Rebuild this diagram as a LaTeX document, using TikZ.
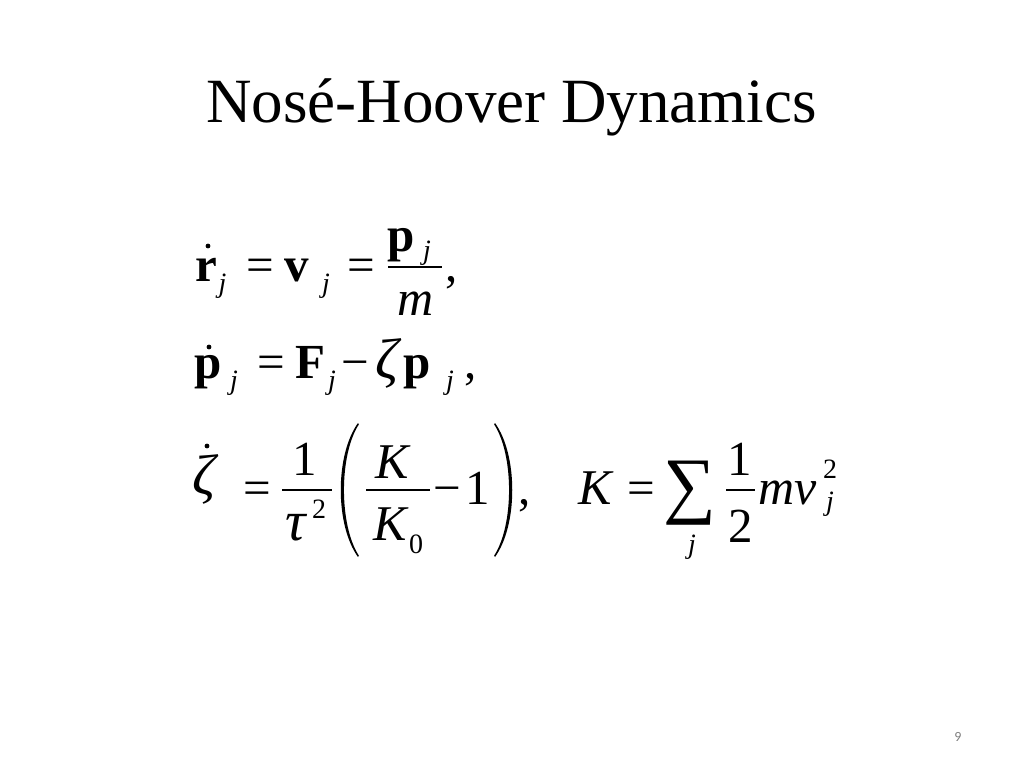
\documentclass[tikz,border=0pt]{standalone}
\usepackage{fontspec}
\setmainfont{Liberation Serif}
\newfontfamily\pagefont{Carlito}
\begin{document}
\begin{tikzpicture}[x=1bp,y=-1bp,
  every node/.style={inner sep=0pt,outer sep=0pt,anchor=base},
  mr/.style={font=\fontsize{49bp}{58bp}\selectfont},
  mb/.style={font=\fontsize{49bp}{58bp}\selectfont\bfseries},
  mi/.style={font=\fontsize{50bp}{58bp}\selectfont\itshape},
  gk/.style={font=\fontsize{57bp}{66bp}\selectfont\itshape},
  sub/.style={font=\fontsize{28bp}{34bp}\selectfont\itshape},
  sup/.style={font=\fontsize{28bp}{34bp}\selectfont},
  bar/.style={line width=2bp},
  dotmark/.style={fill=black},
  paren/.style={fill=black}]
\useasboundingbox[fill=white] (0,0) rectangle (1024,768);
% title
\node[font=\fontsize{63bp}{76bp}\selectfont] (title) at (511.5,122) {Nosé-Hoover Dynamics};
% row 1
\node[mb] (r1r) at (206.5,281) {r};
\fill[dotmark] (208,246) circle (2.4);
\node[sub] (r1j1) at (222.5,292) {j};
\node[mr] (r1e1) at (260.5,281) {=};
\node[mb] (r1v) at (297,281) {v};
\node[sub] (r1j2) at (326,292) {j};
\node[mr] (r1e2) at (361,281) {=};
\coordinate (r1bl) at (388,267);
\coordinate (r1br) at (442,267);
\draw[bar] (r1bl) -- (r1br);
\node[mb] (r1p) at (401.5,251) {p};
\node[sub] (r1j3) at (427,259) {j};
\node[mi] (r1m) at (415.5,315) {m};
\node[mr] (r1c) at (452,281) {,};
% row 2
\node[mb] (r2p) at (208,378) {p};
\fill[dotmark] (209,347) circle (2.4);
\node[sub] (r2j1) at (234,389) {j};
\node[mr] (r2e) at (271.5,378) {=};
\node[mb] (r2F) at (310,378) {F};
\node[sub] (r2j2) at (332,389) {j};
\node[mr] (r2m) at (355,378) {−};
\node[gk] (r2z) at (387,378) {ζ};
\node[mb] (r2p2) at (417,378) {p};
\node[sub] (r2j3) at (450,389) {j};
\node[mr] (r2c) at (471,378) {,};
% row 3 left
\node[gk] (r3z) at (204,494) {ζ};
\fill[dotmark] (207,446) circle (2.4);
\node[mr] (r3e) at (257,504) {=};
\coordinate (f1l) at (282,490);
\coordinate (f1r) at (332,490);
\draw[bar] (f1l) -- (f1r);
\node[mr] (f1n) at (305,475) {1};
\node[gk] (f1t) at (296,540) {τ};
\node[sup] (f1s) at (319,518) {2};
\fill[paren] (358,423) .. controls (335,455) and (335,525) .. (358,557)
  -- (358.8,555.5) .. controls (339,525) and (339,455) .. (358.8,424.5) -- cycle;
\coordinate (f2l) at (366,490);
\coordinate (f2r) at (430,490);
\draw[bar] (f2l) -- (f2r);
\node[mi] (f2n) at (392,478) {K};
\node[mi] (f2d) at (390,540) {K};
\node[sup] (f2s) at (416,553) {0};
\node[mr] (r3m) at (447,504) {−};
\node[mr] (r3one) at (478,504) {1};
\fill[paren] (495,423) .. controls (518,455) and (518,525) .. (495,557)
  -- (494.2,555.5) .. controls (514,525) and (514,455) .. (494.2,424.5) -- cycle;
\node[mr] (r3c) at (525,504) {,};
% row 3 right
\node[mi] (kK) at (595,504) {K};
\node[mr] (ke) at (641,504) {=};
\node[font=\fontsize{74bp}{86bp}\selectfont] (ksum) at (690,509) {∑};
\node[sub] (ksj) at (692,553) {j};
\coordinate (f3l) at (726,490);
\coordinate (f3r) at (755,490);
\draw[bar] (f3l) -- (f3r);
\node[mr] (f3n) at (740,475) {1};
\node[mr] (f3d) at (741,542) {2};
\node[mi,anchor=base west] (kmv) at (758,504) {mv};
\node[sup] (ks2) at (830,478) {2};
\node[sub] (ksj2) at (830,510) {j};
% page number
\node[font=\fontsize{14bp}{17bp}\selectfont\pagefont,text=black!50] (pg) at (958,741) {9};
\end{tikzpicture}
\end{document}
